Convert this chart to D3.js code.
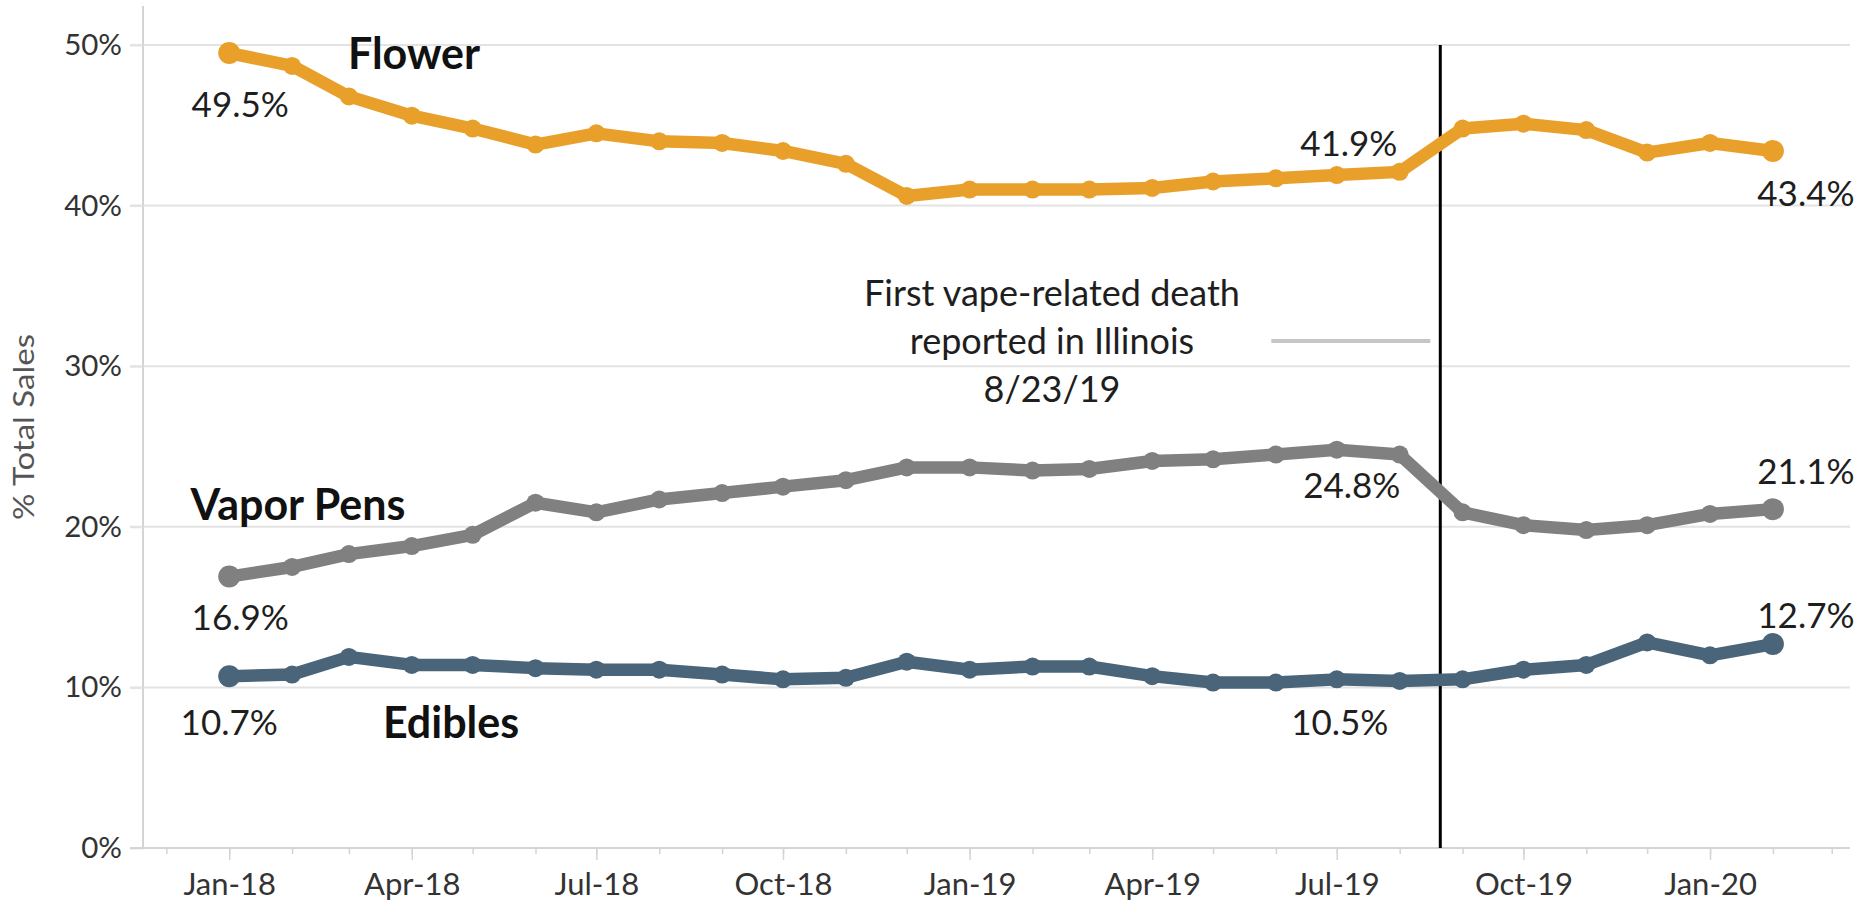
<!DOCTYPE html>
<html>
<head>
<meta charset="utf-8">
<script src="https://cdn.jsdelivr.net/npm/d3@7"></script>
<style>
  html, body { margin: 0; padding: 0; background: #fff; }
  svg { display: block; }
  text { font-family: Lato, "Open Sans", sans-serif; }
</style>
</head>
<body>
<svg id="chart" width="1858" height="905"></svg>
<script>
// ---------- DATA ----------
const months = ["2018-01","2018-02","2018-03","2018-04","2018-05","2018-06","2018-07","2018-08","2018-09","2018-10","2018-11","2018-12",
                "2019-01","2019-02","2019-03","2019-04","2019-05","2019-06","2019-07","2019-08","2019-09","2019-10","2019-11","2019-12",
                "2020-01","2020-02"];
const flower    = [49.5,48.7,46.8,45.6,44.8,43.8,44.5,44.0,43.9,43.4,42.6,40.6,41.0,41.0,41.0,41.1,41.5,41.7,41.9,42.1,44.8,45.1,44.7,43.3,43.9,43.4];
const vaporPens = [16.9,17.5,18.3,18.8,19.5,21.5,20.9,21.7,22.1,22.5,22.9,23.7,23.7,23.5,23.6,24.1,24.2,24.5,24.8,24.5,20.9,20.1,19.8,20.1,20.8,21.1];
const edibles   = [10.7,10.8,11.9,11.4,11.4,11.2,11.1,11.1,10.8,10.5,10.6,11.6,11.1,11.3,11.3,10.7,10.3,10.3,10.5,10.4,10.5,11.1,11.4,12.8,12.0,12.7];
const seriesNames = ["Flower","Vapor Pens","Edibles"];
const yTicks = [0,10,20,30,40,50];
const xTickDates = ["2018-01","2018-04","2018-07","2018-10","2019-01","2019-04","2019-07","2019-10","2020-01"];
const xTickLabels = ["Jan-18","Apr-18","Jul-18","Oct-18","Jan-19","Apr-19","Jul-19","Oct-19","Jan-20"];
const minorTickDates = ["2017-12","2018-01","2018-02","2018-03","2018-04","2018-05","2018-06","2018-07","2018-08","2018-09","2018-10","2018-11","2018-12",
                        "2019-01","2019-02","2019-03","2019-04","2019-05","2019-06","2019-07","2019-08","2019-09","2019-10","2019-11","2019-12",
                        "2020-01","2020-02","2020-03"];
const eventDate = "2019-08-23";
const eventText = ["First vape-related death","reported in Illinois","8/23/19"];
const yTitle = "% Total Sales";
// labelled points: series index, month index
const labelPoints = [[0,0],[0,18],[0,25],[1,0],[1,18],[1,25],[2,0],[2,18],[2,25]];

// ---------- SETUP ----------
const parse = d3.timeParse("%Y-%m");
const parseDay = d3.timeParse("%Y-%m-%d");
const svg = d3.select("#chart");
const mLeft = 143, mRight = 1850, mTop = 45, mBottom = 848;

const x = d3.scaleTime()
  .domain([new Date(2017,10,19,12), new Date(2020,2,10)])
  .range([mLeft, mRight]);
const y = d3.scaleLinear().domain([0,50]).range([mBottom, mTop]);

const colors = ["#E9A02B", "#808080", "#4A6579"];
const seriesData = [flower, vaporPens, edibles];

// gridlines
svg.append("g").selectAll("line").data(yTicks.filter(d => d > 0)).join("line")
  .attr("x1", mLeft - 13).attr("x2", mRight)
  .attr("y1", d => y(d)).attr("y2", d => y(d))
  .attr("stroke", "#e3e3e3").attr("stroke-width", 2);

// y axis
const yAxis = svg.append("g").attr("transform", `translate(${mLeft},0)`)
  .call(d3.axisLeft(y).tickValues(yTicks).tickFormat(d => d + "%").tickSize(13).tickPadding(8));
yAxis.select(".domain").attr("stroke", "#d4d4d4").attr("stroke-width", 2)
  .attr("d", `M0,6V${mBottom}`);
yAxis.selectAll(".tick line").attr("stroke", "#e3e3e3").attr("stroke-width", 2);
yAxis.selectAll(".tick text").attr("font-size", 29.5).attr("fill", "#333")
  .attr("font-family", "Lato, sans-serif");

// x axis minor ticks
const xMinor = svg.append("g").attr("transform", `translate(0,${mBottom})`)
  .call(d3.axisBottom(x).tickValues(minorTickDates.map(parse)).tickFormat("").tickSize(6));
xMinor.select(".domain").remove();
xMinor.selectAll(".tick line").attr("stroke", "#d4d4d4").attr("stroke-width", 1.5);

// x axis major
const xAxis = svg.append("g").attr("transform", `translate(0,${mBottom})`)
  .call(d3.axisBottom(x).tickValues(xTickDates.map(parse))
    .tickFormat((d, i) => xTickLabels[i]).tickSize(12).tickPadding(13));
xAxis.select(".domain").attr("stroke", "#d4d4d4").attr("stroke-width", 2)
  .attr("d", `M${mLeft - 13},0H${mRight}`);
xAxis.selectAll(".tick line").attr("stroke", "#d4d4d4").attr("stroke-width", 1.5);
xAxis.selectAll(".tick text").attr("font-size", 31).attr("fill", "#333")
  .attr("font-family", "Lato, sans-serif");

// y title
svg.append("text")
  .attr("transform", `translate(34,427) rotate(-90)`)
  .attr("text-anchor", "middle")
  .attr("font-size", 29).attr("fill", "#555")
  .attr("textLength", 186).attr("lengthAdjust", "spacingAndGlyphs")
  .text(yTitle);

// event annotation
const ex = x(parseDay(eventDate)) - 4;
svg.append("line").attr("x1", ex).attr("x2", ex).attr("y1", y(50)).attr("y2", mBottom)
  .attr("stroke", "#000").attr("stroke-width", 3);
svg.append("line").attr("x1", ex - 169).attr("x2", ex - 10).attr("y1", 341).attr("y2", 341)
  .attr("stroke", "#c6c6c6").attr("stroke-width", 4);
svg.append("g").selectAll("text").data(eventText).join("text")
  .attr("x", 1052).attr("y", (d, i) => 292 + i * 48)
  .attr("text-anchor", "middle").attr("dominant-baseline", "central")
  .attr("font-size", 36).attr("fill", "#1e1e1e")
  .text(d => d);

// lines
const line = d3.line().x((d, i) => x(parse(months[i]))).y(d => y(d));
seriesData.forEach((vals, s) => {
  const g = svg.append("g");
  g.append("path").datum(vals).attr("d", line)
    .attr("fill", "none").attr("stroke", colors[s]).attr("stroke-width", 12.5)
    .attr("stroke-linejoin", "round").attr("stroke-linecap", "round");
  g.selectAll("circle").data(vals).join("circle")
    .attr("cx", (d, i) => x(parse(months[i]))).attr("cy", d => y(d))
    .attr("r", (d, i) => (i === 0 || i === vals.length - 1) ? 11 : 9)
    .attr("fill", colors[s]);
});

// series name labels (placement styling)
const nameStyle = [
  {x: 414, y: 52},
  {x: 298, y: 503},
  {x: 451, y: 721}
];
svg.append("g").selectAll("text").data(seriesNames).join("text")
  .attr("x", (d, i) => nameStyle[i].x).attr("y", (d, i) => nameStyle[i].y)
  .attr("text-anchor", "middle").attr("dominant-baseline", "central")
  .attr("font-size", 43).attr("font-weight", "bold").attr("fill", "#111")
  .text(d => d);

// value labels: offsets from points (styling)
const labelOffsets = [[11,50],[12,-33],[33,41],[11,39],[15,34],[33,-39],[0,45],[3,42],[33,-30]];
const fmt = d => d3.format(".1f")(d) + "%";
svg.append("g").selectAll("text").data(labelPoints).join("text")
  .attr("x", (d, i) => x(parse(months[d[1]])) + labelOffsets[i][0])
  .attr("y", (d, i) => y(seriesData[d[0]][d[1]]) + labelOffsets[i][1])
  .attr("text-anchor", "middle").attr("dominant-baseline", "central")
  .attr("font-size", 35).attr("fill", "#1e1e1e")
  .text(d => fmt(seriesData[d[0]][d[1]]));
</script>
</body>
</html>
